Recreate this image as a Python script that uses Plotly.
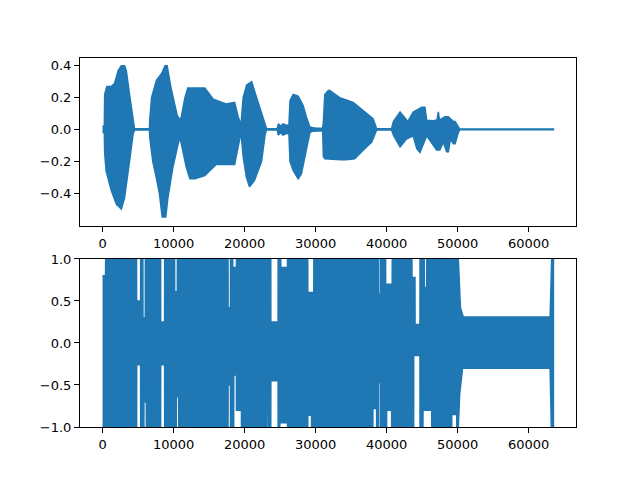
import plotly.graph_objects as go
from plotly.subplots import make_subplots

BLUE = "#1f77b4"

# ---- top panel: waveform envelope (sample index, amplitude) ----
top_hi_x = [0, 250, 300, 600, 1200, 1700, 2200, 2650, 3100, 3350, 3800, 4300, 4500,
            6600, 6650, 6900, 7600, 8300, 8800, 9100, 9600, 10500, 10900, 11100, 11600,
            12000, 14400, 15600, 17400, 18600, 19100, 19500, 19800, 20300, 21000, 21700,
            22400, 22900, 23100, 24600, 24750, 25100, 25400, 26000, 26250, 26400, 26850,
            27550, 28250, 28700, 29200, 29500, 30100, 31000, 31100, 31300, 31800, 32000,
            33400, 35300, 36700, 38100, 38600, 40700, 40950, 41900, 43000, 43750, 44950,
            45400, 45650, 46550, 47100, 47280, 47450, 48220, 48700, 49400, 49650, 50100,
            50300, 63500]
top_hi = [0.02, 0.02, 0.22, 0.27, 0.27, 0.29, 0.37, 0.40, 0.40, 0.37, 0.22, 0.06, 0.004,
          0.004, 0.06, 0.20, 0.31, 0.35, 0.40, 0.40, 0.27, 0.09, 0.06, 0.08, 0.20,
          0.26, 0.26, 0.19, 0.16, 0.17, 0.08, 0.03, 0.20, 0.28, 0.30, 0.20,
          0.10, 0.02, 0.004, 0.004, 0.035, 0.02, 0.035, 0.025, 0.03, 0.18, 0.22,
          0.21, 0.15, 0.08, 0.015, 0.012, 0.008, 0.008, 0.05, 0.22, 0.245, 0.245,
          0.20, 0.17, 0.12, 0.067, 0.004, 0.004, 0.05, 0.11, 0.05, 0.11, 0.14,
          0.14, 0.057, 0.054, 0.06, 0.11, 0.06, 0.08, 0.08, 0.05, 0.05, 0.02,
          0.002, 0.002]
top_lo_x = [0, 250, 300, 500, 1200, 1950, 2650, 3100, 3800, 4300, 4500,
            6600, 6650, 7070, 7550, 8000, 8400, 8900, 9200, 9900, 10600, 10900, 11300,
            11800, 12300, 13000, 14400, 16000, 18600, 18850, 19500, 19800, 20250, 20700,
            21400, 22400, 22900, 23100, 24600, 24750, 25100, 25400, 26000, 26250, 26400,
            26850, 27550, 28000, 28700, 29200, 29500, 30100, 31000, 31100, 31300, 33600,
            34300, 35500, 36700, 37900, 38600, 40700, 41000, 41900, 42800, 43750, 44250,
            44700, 45150, 45650, 47050, 47500, 48000, 48450, 48700, 49000, 49400, 49650,
            50100, 50300, 63500]
top_lo = [-0.02, -0.02, -0.15, -0.26, -0.38, -0.47, -0.50, -0.43, -0.20, -0.03, -0.004,
          -0.004, -0.05, -0.20, -0.30, -0.40, -0.55, -0.55, -0.43, -0.24, -0.10, -0.05, -0.13,
          -0.24, -0.31, -0.31, -0.29, -0.22, -0.22, -0.15, -0.02, -0.17, -0.30, -0.36,
          -0.32, -0.20, -0.03, -0.004, -0.004, -0.035, -0.02, -0.035, -0.025, -0.03, -0.20,
          -0.26, -0.31, -0.28, -0.13, -0.02, -0.012, -0.008, -0.008, -0.17, -0.185, -0.19,
          -0.19, -0.185, -0.13, -0.08, -0.004, -0.004, -0.04, -0.11, -0.06, -0.04, -0.12,
          -0.145, -0.10, -0.04, -0.13, -0.13, -0.08, -0.14, -0.14, -0.06, -0.09, -0.09,
          -0.02, -0.002, -0.002]

# ---- bottom panel: clipped/normalised signal envelope ----
bot_hi_x = [0, 420, 440, 4790, 4800, 5360, 5370, 5680, 5690, 6020, 6030, 8180, 8190, 8740,
            8750, 10150, 10160, 10530, 10540, 17670, 17680, 18010, 18020, 18330, 18340,
            18850, 18860, 23690, 23700, 24720, 24730, 25100, 25110, 25600, 25650, 25700,
            26040, 26050, 28900, 28910, 29750, 29760, 38820, 38830, 39100, 39110, 39860,
            39870, 40790, 40800, 43570, 43580, 44000, 44010, 44700, 44710, 45300, 45310,
            45640, 45650, 50100, 50400, 50800, 63030, 63250, 63500]
bot_hi = [0.80, 0.80, 1.0, 1.0, 0.5, 0.5, 1.0, 1.0, 0.30, 0.30, 1.0, 1.0, 0.25, 0.25,
          1.0, 1.0, 0.61, 0.61, 1.0, 1.0, 0.42, 0.42, 1.0, 1.0, 0.9,
          0.9, 1.0, 1.0, 0.25, 0.25, 1.0, 1.0, 0.9, 0.9, 0.55, 0.9,
          0.9, 1.0, 1.0, 0.6, 0.6, 1.0, 1.0, 0.58, 0.58, 1.0, 1.0,
          0.7, 0.7, 1.0, 1.0, 0.78, 0.78, 0.22, 0.22, 1.0, 1.0, 0.66,
          0.66, 1.0, 1.0, 0.42, 0.31, 0.31, 1.0, 1.0]
bot_lo_x = [0, 4800, 4810, 5360, 5370, 5820, 5830, 6160, 6170, 8180, 8190, 8740, 8750,
            10390, 10400, 10720, 10730, 17670, 17680, 18010, 18020, 18470, 18480, 18850,
            18860, 19560, 19570, 23080, 23090, 23310, 23320, 23690, 23700, 24720, 24730,
            24960, 24970, 26040, 26050, 28900, 28910, 29430, 29440, 38070, 38080, 38590,
            38600, 38820, 38830, 39100, 39110, 40000, 40010, 40710, 40720, 43810, 43820,
            44700, 44710, 45120, 45130, 46350, 46360, 49170, 49180, 49880, 49890, 50100,
            50300, 50700, 63030, 63200, 63500]
bot_lo = [-1, -1, -0.26, -0.26, -1, -1, -0.7, -0.7, -1, -1, -0.26, -0.26, -1,
          -1, -0.64, -0.64, -1, -1, -0.5, -0.5, -1, -1, -0.38, -0.38,
          -0.8, -0.8, -1, -1, -0.85, -0.85, -1, -1, -0.45, -0.45, -1,
          -1, -0.95, -0.95, -1, -1, -0.86, -0.86, -1, -1, -0.78, -0.78,
          -1, -1, -0.47, -0.47, -1, -1, -0.8, -0.8, -1, -1, -0.15,
          -0.15, -1, -1, -0.8, -0.8, -1, -1, -0.85, -0.85, -1, -1,
          -0.6, -0.30, -0.30, -1, -1]

x_ticks = [0, 10000, 20000, 30000, 40000, 50000, 60000]
top_ticks = [-0.4, -0.2, 0.0, 0.2, 0.4]
top_tick_text = ["\u22120.4", "\u22120.2", "0.0", "0.2", "0.4"]
bot_ticks = [-1.0, -0.5, 0.0, 0.5, 1.0]
bot_tick_text = ["\u22121.0", "\u22120.5", "0.0", "0.5", "1.0"]

fig = make_subplots(rows=2, cols=1, vertical_spacing=0.0)

def band(xh, yh, xl, yl):
    return go.Scatter(x=list(xh) + list(xl)[::-1], y=list(yh) + list(yl)[::-1],
                      mode="lines", fill="toself", fillcolor=BLUE,
                      line=dict(color=BLUE, width=1.5), hoverinfo="skip",
                      showlegend=False)

fig.add_trace(band(top_hi_x, top_hi, top_lo_x, top_lo), row=1, col=1)
fig.add_trace(band(bot_hi_x, bot_hi, bot_lo_x, bot_lo), row=2, col=1)

axis_common = dict(showline=True, mirror=True, linecolor="black", linewidth=1,
                   ticks="outside", ticklen=5, tickwidth=1, tickcolor="black",
                   showgrid=False, zeroline=False, automargin=False,
                   tickfont=dict(family="DejaVu Sans", size=13, color="black"))

fig.update_xaxes(range=[-3175, 66675], tickvals=x_ticks,
                 ticktext=[str(v) for v in x_ticks], **axis_common)
fig.update_yaxes(**axis_common)
# page body has an 8px default margin; size the figure so the axes land where
# the reference has them (x 80..576, y 58..427)
fig.update_layout(
    width=632, height=472,
    margin=dict(l=72, r=64, t=50, b=53),
    paper_bgcolor="white", plot_bgcolor="white",
    xaxis=dict(domain=[0, 1], anchor="y"),
    xaxis2=dict(domain=[0, 1], anchor="y2"),
    yaxis=dict(domain=[0.5447, 1.0], range=[-0.607, 0.449],
               tickvals=top_ticks, ticktext=top_tick_text),
    yaxis2=dict(domain=[0.0, 0.4553], range=[-1, 1],
                tickvals=bot_ticks, ticktext=bot_tick_text),
    showlegend=False,
)

fig.write_html("out.html")
